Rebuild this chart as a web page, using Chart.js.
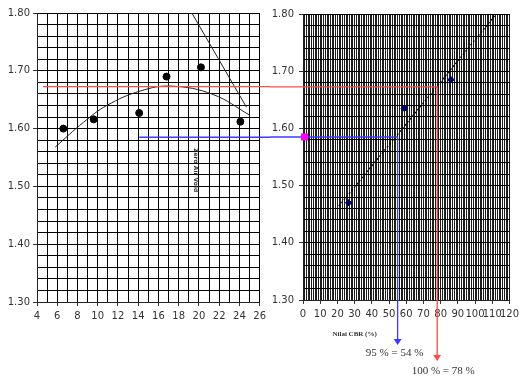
<!DOCTYPE html>
<html>
<head>
<meta charset="utf-8">
<script src="https://cdn.jsdelivr.net/npm/chart.js@4/dist/chart.umd.min.js"></script>
<style>
  html, body { margin: 0; padding: 0; background: #fff; }
  #wrap { position: relative; width: 523px; height: 376px; overflow: hidden; }
  canvas { position: absolute; top: 0; }
  #left { left: 0; }
  #right { left: 270px; }
</style>
</head>
<body>
<div id="wrap">
  <canvas id="left" width="270" height="376"></canvas>
  <canvas id="right" width="253" height="376"></canvas>
</div>
<script>
// ---------- DATA ----------
// Compaction test: moisture content (%) vs dry density
const moisture    = [6.6, 9.6, 14.1, 16.8, 20.2, 24.1];
const dryDensity  = [1.600, 1.616, 1.627, 1.690, 1.706, 1.612];
// Hand-drawn compaction curve
const curveX = [5.8, 8.6, 10.9, 14.2, 17.3, 21.4, 25.0];
const curveY = [1.568, 1.611, 1.640, 1.665, 1.6735, 1.659, 1.6235];
// Zero-air-voids line
const zavX = [19.3, 24.7];
const zavY = [1.800, 1.637];
// CBR vs dry density
const cbrValues  = [26.5, 58.9, 86.0];
const cbrDensity = [1.470, 1.635, 1.685];
// CBR trend line
const cbrLineX = [20.8, 112.3];
const cbrLineY = [1.464, 1.800];
// Reference levels
const maxDryDensity = 1.6725;   // 100 %
const density95     = 1.585;    // 95 %
const cbrAt100 = 78;
const cbrAt95  = 55;
const redStartMoisture  = 4.6;
const blueStartMoisture = 14.1;
// Texts
const cbrAxisTitle = 'Nilai CBR (%)';
const label95  = '95 % = 54 %';
const label100 = '100 % = 78 %';
const zavLabel = 'Zero Air Void';
// Axes / tick labels
const yMin = 1.30, yMax = 1.80, yStep = 0.02;
const leftXMin = 4, leftXMax = 26, leftXStep = 1, leftXLabelEvery = 2;
const rightXMin = 0, rightXMax = 120, rightXStep = 1, rightXLabelEvery = 10;

// ---------- helpers ----------
function range(a, b, s) {
  const out = [];
  const n = Math.round((b - a) / s);
  for (let i = 0; i <= n; i++) out.push(+(a + i * s).toFixed(4));
  return out;
}
const yTicks = range(yMin, yMax, yStep);
const leftXTicks = range(leftXMin, leftXMax, leftXStep);
const rightXTicks = range(rightXMin, rightXMax, rightXStep);
const isYMajor = v => Math.round(v * 100) % 10 === 0;

const RED = '#ff4a4a';
const BLUE = '#3b3bff';
const TICK_FONT = { family: 'DejaVu Sans', size: 10 };
const TICK_COLOR = '#333';

Chart.defaults.animation = false;

function yAxis(width, pad) {
  return {
    type: 'linear', min: yMin, max: yMax,
    afterBuildTicks: s => { s.ticks = yTicks.map(v => ({ value: v })); },
    afterFit: s => { s.width = width; },
    ticks: {
      autoSkip: false, padding: pad, color: TICK_COLOR, font: TICK_FONT,
      callback: v => isYMajor(v) ? v.toFixed(2) : ''
    },
    grid: {
      color: '#000', lineWidth: 1, tickLength: 4,
      tickColor: c => (c.tick && isYMajor(c.tick.value)) ? '#333' : 'rgba(0,0,0,0)'
    },
    border: { color: '#222', width: 1 }
  };
}

function xAxis(min, max, ticksArr, every, height, gridColor) {
  return {
    type: 'linear', min: min, max: max,
    afterBuildTicks: s => { s.ticks = ticksArr.map(v => ({ value: v })); },
    afterFit: s => { s.height = height; },
    ticks: {
      autoSkip: false, maxRotation: 0, minRotation: 0, padding: 4,
      color: TICK_COLOR, font: TICK_FONT,
      callback: v => (Math.round(v) % every === 0) ? String(v) : ''
    },
    grid: {
      color: gridColor, lineWidth: 1, tickLength: 4,
      tickColor: c => (c.tick && Math.round(c.tick.value) % every === 0) ? '#333' : 'rgba(0,0,0,0)'
    },
    border: { color: '#222', width: 1 }
  };
}

function arrowDown(ctx, x, yTip, color) {
  ctx.fillStyle = color;
  ctx.beginPath();
  ctx.moveTo(x - 4, yTip - 6);
  ctx.lineTo(x + 4, yTip - 6);
  ctx.lineTo(x, yTip);
  ctx.closePath();
  ctx.fill();
}

// ---------- LEFT CHART ----------
const leftOverlay = {
  id: 'leftOverlay',
  afterDatasetsDraw(chart) {
    const { ctx, scales: { x, y } } = chart;
    ctx.save();
    ctx.lineWidth = 1.3;
    ctx.strokeStyle = RED;
    ctx.beginPath();
    ctx.moveTo(x.getPixelForValue(redStartMoisture), y.getPixelForValue(maxDryDensity));
    ctx.lineTo(chart.width, y.getPixelForValue(maxDryDensity));
    ctx.stroke();
    ctx.strokeStyle = BLUE;
    ctx.beginPath();
    ctx.moveTo(x.getPixelForValue(blueStartMoisture), y.getPixelForValue(density95));
    ctx.lineTo(chart.width, y.getPixelForValue(density95));
    ctx.stroke();
    // rotated label of the ZAV line
    ctx.translate(x.getPixelForValue(19.7), y.getPixelForValue(1.528));
    ctx.rotate(Math.PI / 2);
    ctx.fillStyle = '#333';
    ctx.font = 'bold 6px "DejaVu Sans"';
    ctx.textAlign = 'center';
    ctx.textBaseline = 'middle';
    ctx.fillText(zavLabel, 0, 0);
    ctx.restore();
  }
};

new Chart(document.getElementById('left'), {
  type: 'scatter',
  data: {
    datasets: [
      {
        label: 'curve', showLine: true, pointRadius: 0, tension: 0.4,
        borderColor: '#222', borderWidth: 1,
        data: curveX.map((v, i) => ({ x: v, y: curveY[i] }))
      },
      {
        label: 'zav', showLine: true, pointRadius: 0,
        borderColor: '#222', borderWidth: 1,
        data: zavX.map((v, i) => ({ x: v, y: zavY[i] }))
      },
      {
        label: 'tests', showLine: false, pointRadius: 3.5, pointStyle: 'circle',
        backgroundColor: '#000', borderColor: '#000',
        data: moisture.map((v, i) => ({ x: v, y: dryDensity[i] }))
      }
    ]
  },
  options: {
    responsive: false, devicePixelRatio: 1, animation: false,
    layout: { padding: { top: 13, right: 10, left: 0, bottom: 0 } },
    plugins: { legend: { display: false }, tooltip: { enabled: false } },
    scales: {
      x: xAxis(leftXMin, leftXMax, leftXTicks, leftXLabelEvery, 74, '#000'),
      y: yAxis(37, 3)
    }
  },
  plugins: [leftOverlay]
});

// ---------- RIGHT CHART ----------
const rightOverlay = {
  id: 'rightOverlay',
  afterDatasetsDraw(chart) {
    const { ctx, chartArea, scales: { x, y } } = chart;
    const b = chartArea.bottom;
    ctx.save();
    ctx.lineWidth = 1.3;
    // red: 100 %
    const xr = x.getPixelForValue(cbrAt100), yr = y.getPixelForValue(maxDryDensity);
    ctx.strokeStyle = RED;
    ctx.beginPath();
    ctx.moveTo(0, yr); ctx.lineTo(xr, yr); ctx.lineTo(xr, b + 55);
    ctx.stroke();
    arrowDown(ctx, xr, b + 61, RED);
    // blue: 95 %
    const xb = x.getPixelForValue(cbrAt95), yb = y.getPixelForValue(density95);
    ctx.strokeStyle = BLUE;
    ctx.beginPath();
    ctx.moveTo(0, yb); ctx.lineTo(xb, yb); ctx.lineTo(xb, b + 39);
    ctx.stroke();
    arrowDown(ctx, xb, b + 45, BLUE);
    // magenta marker on the axis
    ctx.fillStyle = '#ff00ff';
    ctx.fillRect(x.getPixelForValue(0) - 2, yb - 3.5, 7, 7);
    // texts
    ctx.fillStyle = '#333';
    ctx.textAlign = 'center';
    ctx.textBaseline = 'middle';
    ctx.font = 'bold 7px "Liberation Serif"';
    ctx.fillText(cbrAxisTitle, x.getPixelForValue(30), b + 34);
    ctx.font = '11px "Liberation Serif"';
    ctx.fillText(label95, xb - 3, b + 53);
    ctx.fillText(label100, xr + 6, b + 71);
    ctx.restore();
  }
};

new Chart(document.getElementById('right'), {
  type: 'scatter',
  data: {
    datasets: [
      {
        label: 'trend', showLine: true, pointRadius: 0,
        borderColor: '#000', borderWidth: 1.3, borderDash: [2, 2],
        data: cbrLineX.map((v, i) => ({ x: v, y: cbrLineY[i] }))
      },
      {
        label: 'cbr', showLine: false, pointRadius: 3.2, pointStyle: 'rectRot',
        backgroundColor: '#000066', borderColor: '#000066',
        data: cbrValues.map((v, i) => ({ x: v, y: cbrDensity[i] }))
      }
    ]
  },
  options: {
    responsive: false, devicePixelRatio: 1, animation: false,
    layout: { padding: { top: 14, right: 10, left: 0, bottom: 0 } },
    plugins: { legend: { display: false }, tooltip: { enabled: false } },
    scales: {
      x: xAxis(rightXMin, rightXMax, rightXTicks, rightXLabelEvery, 76, '#1e1e1e'),
      y: yAxis(33, 5)
    }
  },
  plugins: [rightOverlay]
});
</script>
</body>
</html>
